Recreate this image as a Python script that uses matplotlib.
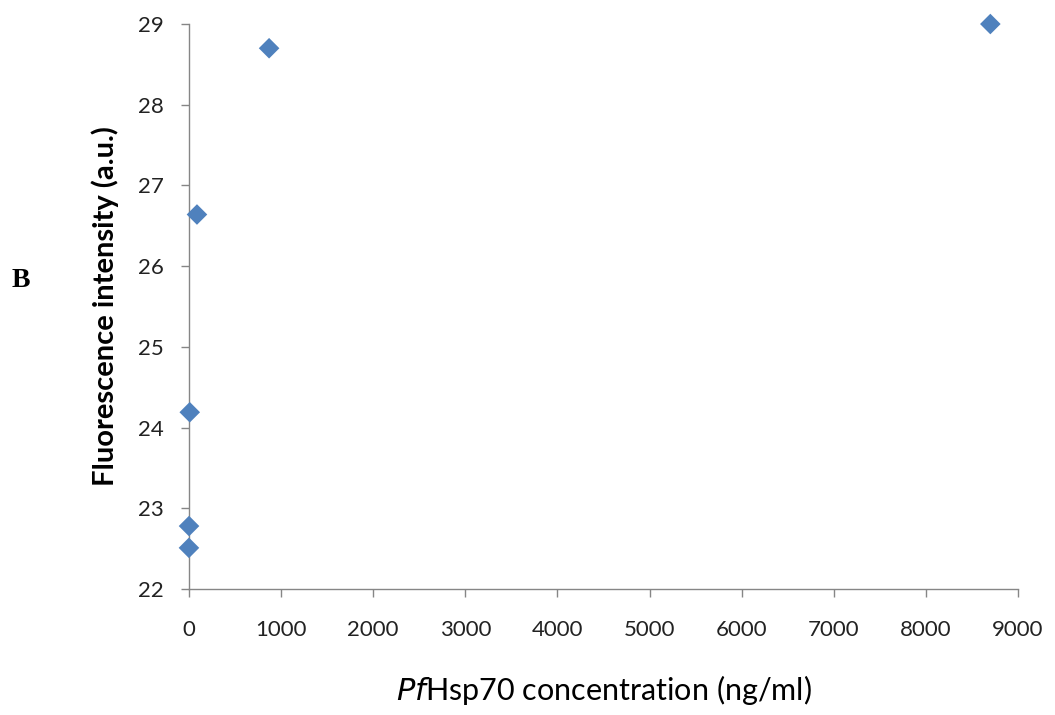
import matplotlib
matplotlib.use("Agg")
import matplotlib.pyplot as plt

# PfHsp70 concentration (ng/ml) and measured fluorescence intensity (a.u.)
concentration = [8700, 870, 87, 8.7, 0.87, 0]
fluorescence = [29.0, 28.7, 26.64, 24.19, 22.78, 22.51]

x_ticks = [0, 1000, 2000, 3000, 4000, 5000, 6000, 7000, 8000, 9000]
y_ticks = [22, 23, 24, 25, 26, 27, 28, 29]

plt.rcParams['font.family'] = ['Lato', 'DejaVu Sans']

fig = plt.figure(figsize=(10.55, 7.15), dpi=100)
ax = fig.add_axes([0.1791, 0.1762, 0.7858, 0.7902])

ax.scatter(concentration, fluorescence, marker='D', s=110, color='#4F81BD',
           edgecolors='none', zorder=3, clip_on=False)

ax.set_xlim(0, 9000)
ax.set_ylim(22, 29)
ax.set_xticks(x_ticks)
ax.set_yticks(y_ticks)

for side in ('top', 'right'):
    ax.spines[side].set_visible(False)
for side in ('left', 'bottom'):
    ax.spines[side].set_color('#868686')
    ax.spines[side].set_linewidth(1.0)

ax.tick_params(axis='both', direction='out', length=6, width=1.0,
               color='#868686', labelsize=16, labelcolor='#222222')
ax.tick_params(axis='x', pad=16)
ax.tick_params(axis='y', pad=12)

ax.set_ylabel('Fluorescence intensity (a.u.)', fontsize=21, fontweight='bold',
              labelpad=14)
ax.set_xlabel(r'$\mathit{Pf}$Hsp70 concentration (ng/ml)', fontsize=22,
              labelpad=24)

fig.text(0.011, 0.607, 'B', fontsize=20, fontweight='bold',
         family='Liberation Serif', ha='left', va='center')

fig.savefig('out.png', dpi=100)
